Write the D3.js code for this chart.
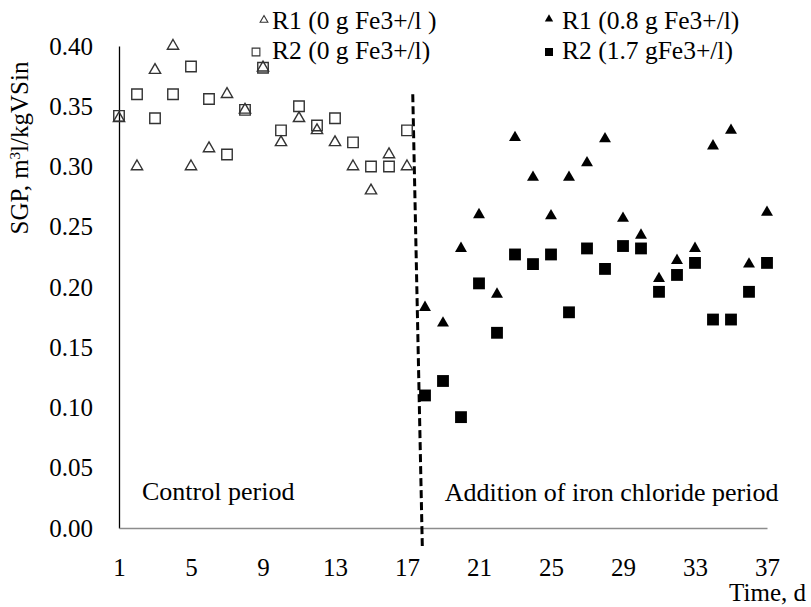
<!DOCTYPE html>
<html lang="en">
<head>
    <meta charset="UTF-8">
    <script src="https://d3js.org/d3.v7.min.js"></script>
    <title>SGP</title>
    <style>
        body { margin: 0; background: #fff; }
        text { font-family: "Liberation Serif", "Times New Roman", serif; fill: #000; }
    </style>
</head>
<body>
    <div id="canvas"></div>
</body>
    <script>
        // days
        const controlDays = [1,2,3,4,5,6,7,8,9,10,11,12,13,14,15,16,17]
        const ironDays = [18,19,20,21,22,23,24,25,26,27,28,29,30,31,32,33,34,35,36,37]
        // SGP values, m3/kgVSin
        const r1Control = [0.340,0.300,0.380,0.400,0.300,0.315,0.360,0.347,0.382,0.320,0.340,0.330,0.320,0.300,0.280,0.310,0.300]
        const r2Control = [0.342,0.360,0.340,0.360,0.383,0.356,0.310,0.347,0.382,0.330,0.350,0.334,0.340,0.320,0.300,0.300,0.330]
        const r1Iron = [0.183,0.170,0.232,0.260,0.194,0.324,0.291,0.259,0.291,0.303,0.323,0.257,0.243,0.207,0.222,0.232,0.317,0.330,0.219,0.262]
        const r2Iron = [0.110,0.122,0.092,0.203,0.162,0.227,0.219,0.227,0.179,0.232,0.215,0.234,0.232,0.196,0.210,0.220,0.173,0.173,0.196,0.220]
        const xTicks = [1,5,9,13,17,21,25,29,33,37]
        const yTicks = [0,0.05,0.10,0.15,0.20,0.25,0.30,0.35,0.40]
        const legendLabels = ["R1 (0 g Fe3+/l )","R2 (0 g Fe3+/l)","R1 (0.8 g Fe3+/l)","R2 (1.7 gFe3+/l)"]
        // dashed separator, in data units
        const dividerTop = [17.32, 0.360]
        const dividerBottom = [17.85, -0.015]

        const W = 811, H = 607
        const margin = {top:46, right:44, bottom:79, left:119}
        const gW = W - margin.left - margin.right
        const gH = H - margin.top - margin.bottom

        const svg = d3.select("#canvas").append("svg").attr("width",W).attr("height",H)
        const g = svg.append("g").attr("transform",`translate(${margin.left},${margin.top})`)

        const x = d3.scaleLinear().domain([1,37]).range([0,gW])
        const y = d3.scaleLinear().domain([0,0.40]).range([gH,0])

        const yAxis = d3.axisLeft(y).tickValues(yTicks).tickFormat(d3.format(".2f")).tickSize(0).tickPadding(26)
        const gy = g.append("g").call(yAxis)
        gy.select(".domain").attr("stroke","#000").attr("stroke-width",1.3)
        gy.selectAll("text").style("font-size","25px").attr("fill","#000")

        const xAxis = d3.axisBottom(x).tickValues(xTicks).tickSize(0).tickPadding(30)
        const gx = g.append("g").attr("transform",`translate(0,${gH})`).call(xAxis)
        gx.select(".domain").attr("stroke","#8c8c8c").attr("stroke-width",1.3)
        gx.selectAll("text").style("font-size","25px").attr("fill","#000")

        // y title
        const yt = svg.append("text")
            .attr("transform","rotate(-90)")
            .attr("x",-148).attr("y",28)
            .attr("text-anchor","middle")
            .style("font-size","25px")
        yt.append("tspan").text("SGP, m")
        yt.append("tspan").text("3").attr("baseline-shift","super").style("font-size","15px")
        yt.append("tspan").text("l/kgVSin")

        svg.append("text")
            .attr("x",806).attr("y",601)
            .attr("text-anchor","end")
            .style("font-size","25px")
            .text("Time, d")

        g.append("text").attr("x",x(2.28)).attr("y",y(0) - 28).style("font-size","26px").text("Control period")
        g.append("text").attr("x",x(19.1)).attr("y",y(0) - 27).style("font-size","26px").text("Addition of iron chloride period")

        // divider
        g.append("line")
            .attr("x1",x(dividerTop[0])).attr("y1",y(dividerTop[1]))
            .attr("x2",x(dividerBottom[0])).attr("y2",y(dividerBottom[1]))
            .attr("stroke","#000").attr("stroke-width",3)
            .attr("stroke-dasharray","8,4")

        const tri = d3.symbol().type(d3.symbolTriangle)
        const sq = d3.symbol().type(d3.symbolSquare)

        function scatter(days, vals, sym, size, filled){
            g.append("g").selectAll("path")
                .data(days.map((d,i)=>({day:d, v:vals[i]})))
                .enter().append("path")
                .attr("d", sym.size(size)())
                .attr("transform", d => `translate(${x(d.day)},${y(d.v)})`)
                .attr("fill", filled ? "#000" : "none")
                .attr("stroke", filled ? "none" : "#333")
                .attr("stroke-width", 1.4)
        }
        scatter(controlDays, r2Control, sq, 110, false)
        scatter(controlDays, r1Control, tri, 55, false)
        scatter(ironDays, r1Iron, tri, 62, true)
        scatter(ironDays, r2Iron, sq, 140, true)

        // legend
        const legendPos = [[264,20,272,29],[256,52,272,59],[549,19,562,29],[549,52,562,59]]
        const legendSym = [[tri,26,false],[sq,60,false],[tri,30,true],[sq,64,true]]
        legendLabels.forEach((lab,i)=>{
            const p = legendPos[i], s = legendSym[i]
            svg.append("path")
                .attr("d", s[0].size(s[1])())
                .attr("transform",`translate(${p[0]},${p[1]})`)
                .attr("fill", s[2] ? "#000" : "none")
                .attr("stroke", s[2] ? "none" : "#333")
                .attr("stroke-width",1.1)
            svg.append("text").attr("x",p[2]).attr("y",p[3]).style("font-size","25.5px").text(lab)
        })
    </script>
</html>
